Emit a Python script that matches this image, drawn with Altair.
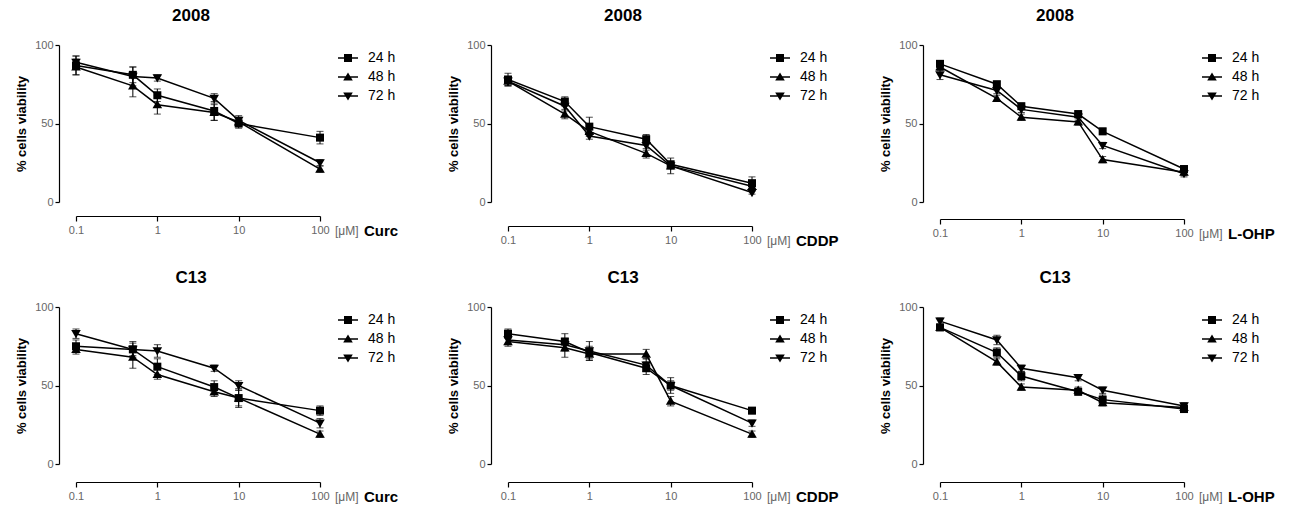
import altair as alt
import pandas as pd

FONT = "Liberation Sans, Arial, sans-serif"

concs = [0.1, 0.5, 1, 5, 10, 100]
series = ["24 h", "48 h", "72 h"]

# 2008 cells
curc_2008 = {"24 h": [87, 81, 68, 58, 50, 41], "48 h": [86, 74, 62, 57, 51, 21], "72 h": [89, 80, 79, 66, 52, 25]}
curc_2008_err = {"24 h": [6, 5, 4, 6, 3, 4], "48 h": [5, 7, 6, 5, 3, 2], "72 h": [4, 6, 2, 3, 3, 2]}
cddp_2008 = {"24 h": [78, 64, 48, 40, 24, 12], "48 h": [77, 56, 45, 31, 23, 10], "72 h": [77, 61, 42, 36, 23, 6]}
cddp_2008_err = {"24 h": [4, 3, 6, 3, 2, 4], "48 h": [3, 3, 3, 3, 5, 2], "72 h": [3, 3, 2, 3, 2, 1]}
lohp_2008 = {"24 h": [88, 75, 61, 56, 45, 21], "48 h": [86, 66, 54, 51, 27, 19], "72 h": [81, 71, 59, 54, 36, 18]}
lohp_2008_err = {"24 h": [2, 2, 2, 2, 2, 2], "48 h": [2, 2, 2, 2, 2, 2], "72 h": [3, 2, 2, 2, 2, 2]}

# C13 cells
curc_c13 = {"24 h": [75, 73, 62, 49, 42, 34], "48 h": [73, 68, 57, 46, 42, 19], "72 h": [83, 73, 72, 61, 50, 26]}
curc_c13_err = {"24 h": [4, 5, 5, 4, 6, 3], "48 h": [3, 7, 3, 3, 5, 2], "72 h": [3, 4, 4, 2, 3, 3]}
cddp_c13 = {"24 h": [83, 78, 71, 61, 50, 34], "48 h": [78, 74, 70, 70, 40, 19], "72 h": [79, 76, 72, 63, 50, 26]}
cddp_c13_err = {"24 h": [3, 5, 4, 4, 5, 2], "48 h": [3, 6, 4, 3, 3, 2], "72 h": [3, 4, 6, 4, 3, 2]}
lohp_c13 = {"24 h": [87, 71, 56, 46, 41, 35], "48 h": [87, 65, 49, 47, 39, 36], "72 h": [91, 79, 61, 55, 47, 37]}
lohp_c13_err = {"24 h": [2, 3, 3, 2, 3, 2], "48 h": [2, 2, 2, 2, 2, 2], "72 h": [2, 3, 2, 2, 2, 2]}

panel_titles = ["2008", "2008", "2008", "C13", "C13", "C13"]
drugs = ["Curc", "CDDP", "L-OHP", "Curc", "CDDP", "L-OHP"]
means_list = [curc_2008, cddp_2008, lohp_2008, curc_c13, cddp_c13, lohp_c13]
errs_list = [curc_2008_err, cddp_2008_err, lohp_2008_err, curc_c13_err, cddp_c13_err, lohp_c13_err]
x_offsets = [14, 24, 17, 18, 18, 18]

W, H = 244, 157

plot_paths = [
    "M-0.4,-0.4H0.4V0.4H-0.4Z",
    "M0,-0.46L0.48,0.36H-0.48Z",
    "M0,0.46L-0.48,-0.36H0.48Z",
]
# legend glyphs: a short horizontal bar (the series line) through the marker
legend_paths = ["M-1,-0.075H1V0.075H-1Z" + p for p in plot_paths]


def panel(title, drug, means, errs, xoff):
    rows = []
    for s in series:
        for c, m, e in zip(concs, means[s], errs[s]):
            rows.append({"conc": c, "series": s, "v": m, "lo": m - e, "hi": m + e})
    df = pd.DataFrame(rows)

    xs = alt.Scale(type="log", domain=[0.1, 100], nice=False)
    ys = alt.Scale(domain=[0, 100], nice=False, zero=False)
    xax = alt.Axis(values=[0.1, 1, 10, 100], format="~g", offset=xoff, title=None,
                   tickSize=5, labelPadding=3, labelFlush=False, labelOverlap=False,
                   labelFontSize=11, labelColor="#666666", labelFont=FONT,
                   domainColor="black", tickColor="black", domainWidth=1.2, tickWidth=1.2)
    yax = alt.Axis(values=[0, 50, 100], offset=17, title="% cells viability",
                   tickSize=4, labelPadding=2, labelFlush=False, labelOverlap=False,
                   labelFontSize=11, labelColor="#666666", labelFont=FONT,
                   titleFont=FONT, titleFontSize=13, titleFontWeight="bold", titleColor="black",
                   titlePadding=6,
                   domainColor="black", tickColor="black", domainWidth=1.2, tickWidth=1.2)

    base = alt.Chart(df)
    X = alt.X("conc:Q", scale=xs, axis=xax)
    lines = base.mark_line(color="black", strokeWidth=1.5).encode(
        x=X, y=alt.Y("v:Q", scale=ys, axis=yax), detail="series:N")
    rules = base.mark_rule(color="black", strokeWidth=1).encode(
        x=X, y=alt.Y("lo:Q", scale=ys, axis=yax), y2="hi:Q")
    tlo = base.mark_tick(color="black", orient="horizontal", size=7, thickness=1).encode(
        x=X, y=alt.Y("lo:Q", scale=ys, axis=yax))
    thi = base.mark_tick(color="black", orient="horizontal", size=7, thickness=1).encode(
        x=X, y=alt.Y("hi:Q", scale=ys, axis=yax))
    pts = base.mark_point(filled=True, color="black", size=400, opacity=1).encode(
        x=X, y=alt.Y("v:Q", scale=ys, axis=yax),
        shape=alt.Shape("series:N", scale=alt.Scale(domain=series, range=plot_paths), legend=None))
    leg = base.mark_point(filled=True, color="black", size=400, opacity=0).encode(
        x=X, y=alt.Y("v:Q", scale=ys, axis=yax),
        shape=alt.Shape("series:N", scale=alt.Scale(domain=series, range=legend_paths),
                        legend=alt.Legend(title=None, orient="none", legendX=W + 17, legendY=2,
                                          symbolSize=400, symbolOpacity=1,
                                          symbolFillColor="black",
                                          labelFontSize=14, labelFont=FONT, labelColor="black",
                                          labelOffset=9, rowPadding=1)))

    lab = pd.DataFrame({"u": ["[\u03bcM]"], "d": [drug]})
    ytext = H + xoff + 5 + 3 + 7
    unit_txt = alt.Chart(lab).mark_text(align="left", baseline="middle", fontSize=12,
                                        color="#666666", font=FONT).encode(
        text="u:N", x=alt.value(W + 15), y=alt.value(ytext))
    drug_txt = alt.Chart(lab).mark_text(align="left", baseline="middle", fontSize=15,
                                        fontWeight="bold", color="black", font=FONT).encode(
        text="d:N", x=alt.value(W + 44), y=alt.value(ytext))

    return alt.layer(lines, rules, tlo, thi, pts, leg, unit_txt, drug_txt).resolve_scale(
        shape="independent"
    ).properties(
        width=W, height=H,
        title=alt.TitleParams(title, fontSize=17, fontWeight="bold", font=FONT, color="black",
                              anchor="middle", frame="group", dx=-7, offset=14),
    )


panels = [panel(t, d, m, e, o) for t, d, m, e, o in
          zip(panel_titles, drugs, means_list, errs_list, x_offsets)]

chart = alt.ConcatChart(
    concat=panels, columns=3, spacing={"row": 105, "column": 188}, bounds="flush"
).resolve_scale(
    shape="independent", x="independent", y="independent"
).resolve_legend(shape="independent").properties(
    padding={"left": 15, "top": 7, "right": 5, "bottom": 3}
).configure_view(stroke=None).configure_axis(grid=False)

chart.save("out.html", embed_options={"renderer": "svg", "actions": False})
